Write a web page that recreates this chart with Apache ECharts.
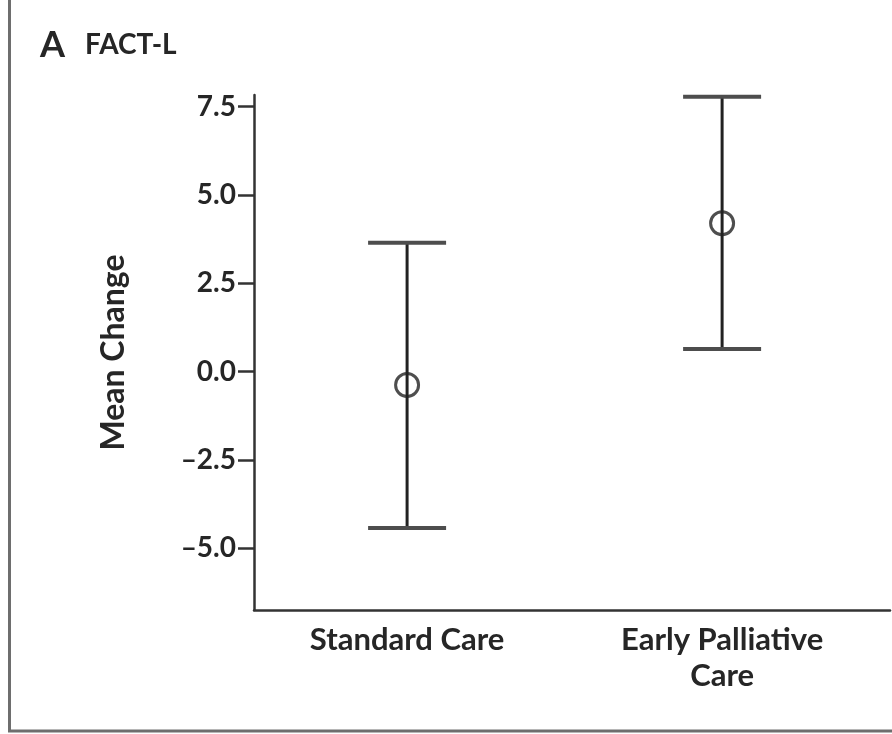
<!DOCTYPE html>
<html>
<head>
<meta charset="utf-8">
<script src="https://cdn.jsdelivr.net/npm/echarts@6/dist/echarts.min.js"></script>
<style>
html,body{margin:0;padding:0;background:#fff;}
#chart{width:892px;height:734px;}
</style>
</head>
<body>
<div id="chart"></div>
<script>
// Data
const categories = ['Standard Care', 'Early Palliative\nCare'];
const meanChange = [-0.38, 4.2];
const lowerCI = [-4.43, 0.64];
const upperCI = [3.65, 7.78];
const yTickValues = [-5, -2.5, 0, 2.5, 5, 7.5];
const catPositions = [0, 1];

const FONT = 'Lato';
const TXT = '#262626';
const W = 'bold';

const errData = categories.map((c, i) => [catPositions[i], meanChange[i], lowerCI[i], upperCI[i]]);
const meanData = categories.map((c, i) => [catPositions[i], meanChange[i]]);

const chart = echarts.init(document.getElementById('chart'), null, {renderer: 'canvas'});
chart.setOption({
  animation: false,
  backgroundColor: '#fff',
  grid: {left: 254, top: 95, right: 2, bottom: 124, containLabel: false},
  title: {
    text: '{a|A}{b|FACT-L}',
    left: 35, top: 22,
    textStyle: {
      rich: {
        a: {fontFamily: FONT, fontWeight: W, fontSize: 36, color: TXT, padding: [0, 20, 0, 0]},
        b: {fontFamily: FONT, fontWeight: W, fontSize: 28, color: TXT}
      }
    }
  },
  xAxis: {
    type: 'value',
    min: -0.486, max: 1.533,
    splitLine: {show: false},
    axisLine: {show: true, onZero: false, lineStyle: {color: '#333', width: 2.5}},
    axisTick: {show: false},
    axisLabel: {
      customValues: catPositions,
      margin: 12,
      fontFamily: FONT, fontWeight: W, fontSize: 31, color: TXT, lineHeight: 36,
      formatter: v => categories[Math.round(v)] || ''
    }
  },
  yAxis: {
    type: 'value',
    min: -6.75, max: 7.83,
    name: 'Mean Change',
    nameLocation: 'middle',
    nameGap: 124,
    nameRotate: 90,
    nameTextStyle: {fontFamily: FONT, fontWeight: W, fontSize: 32, color: TXT},
    splitLine: {show: false},
    axisLine: {show: true, onZero: false, lineStyle: {color: '#333', width: 2.5}},
    axisTick: {show: true, length: 16, customValues: yTickValues, lineStyle: {color: '#333', width: 2.5}},
    axisLabel: {
      customValues: yTickValues,
      margin: 18,
      fontFamily: FONT, fontWeight: W, fontSize: 28, color: TXT,
      formatter: v => (v < 0 ? '\u2013' : '') + Math.abs(v).toFixed(1)
    }
  },
  series: [
    {
      type: 'custom',
      data: errData,
      encode: {x: 0, y: [1, 2, 3]},
      renderItem: function (params, api) {
        const x = api.value(0);
        const lo = api.coord([x, api.value(2)]);
        const hi = api.coord([x, api.value(3)]);
        const hw = 39;
        return {
          type: 'group',
          children: [
            {type: 'line', shape: {x1: lo[0], y1: lo[1], x2: hi[0], y2: hi[1]}, style: {stroke: '#222', lineWidth: 3}},
            {type: 'line', shape: {x1: hi[0] - hw, y1: hi[1], x2: hi[0] + hw, y2: hi[1]}, style: {stroke: '#4d4d4d', lineWidth: 4}},
            {type: 'line', shape: {x1: lo[0] - hw, y1: lo[1], x2: lo[0] + hw, y2: lo[1]}, style: {stroke: '#4d4d4d', lineWidth: 4}}
          ]
        };
      },
      z: 2
    },
    {
      type: 'scatter',
      data: meanData,
      symbol: 'circle',
      symbolSize: 23,
      itemStyle: {color: 'rgba(0,0,0,0)', borderColor: '#222', borderWidth: 3},
      z: 3
    }
  ],
  graphic: [
    {type: 'line', shape: {x1: 9.5, y1: 0, x2: 9.5, y2: 731}, style: {stroke: '#6e6e6e', lineWidth: 3}},
    {type: 'line', shape: {x1: 8, y1: 731, x2: 892, y2: 731}, style: {stroke: '#6e6e6e', lineWidth: 3}}
  ]
});
</script>
</body>
</html>
